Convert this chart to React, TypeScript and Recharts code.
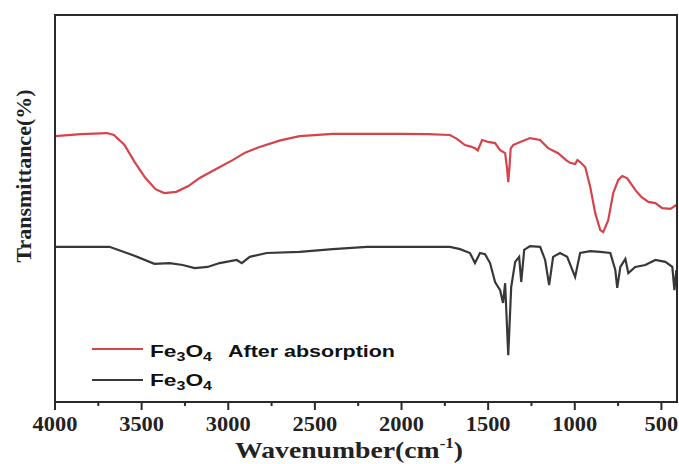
import { LineChart, Line, XAxis, YAxis } from 'recharts';

// FTIR spectra, wavenumber (cm-1) vs transmittance (arbitrary %)
const afterWavenumber = [4000, 3850, 3700, 3660, 3600, 3540, 3480, 3420, 3370, 3300, 3230, 3165, 3070, 2975, 2900, 2819, 2700, 2588, 2397, 2200, 2009, 1850, 1720, 1680, 1634, 1600, 1576, 1560, 1535, 1500, 1460, 1431, 1402, 1390, 1384, 1378, 1370, 1356, 1315, 1258, 1200, 1154, 1096, 1050, 1027, 998, 985, 969, 940, 911, 882, 853, 836, 807, 778, 749, 726, 697, 651, 616, 575, 535, 495, 448, 414];
const afterTransmittance = [68.7, 69.2, 69.5, 69.0, 66.5, 62.0, 58.0, 55.0, 54.0, 54.3, 55.8, 57.9, 60.2, 62.5, 64.5, 65.9, 67.6, 68.7, 69.3, 69.3, 69.3, 69.2, 69.0, 68.0, 66.4, 66.0, 65.6, 65.0, 67.7, 67.2, 66.9, 65.1, 64.3, 60.0, 56.8, 60.0, 65.5, 66.4, 67.2, 68.2, 67.7, 65.6, 64.3, 62.5, 61.8, 61.5, 62.5, 62.0, 60.7, 55.6, 48.8, 44.4, 43.9, 47.0, 54.0, 57.4, 58.4, 57.8, 54.8, 53.0, 51.7, 51.4, 50.1, 49.9, 50.9];

const pureWavenumber = [4000, 3686, 3553, 3426, 3338, 3263, 3194, 3119, 3050, 2951, 2922, 2876, 2778, 2588, 2397, 2200, 2009, 1720, 1662, 1605, 1576, 1547, 1518, 1489, 1460, 1431, 1414, 1402, 1384, 1367, 1344, 1321, 1309, 1292, 1258, 1200, 1171, 1148, 1125, 1085, 1044, 998, 969, 911, 853, 795, 766, 755, 737, 708, 691, 651, 593, 535, 477, 437, 425, 414];
const pureTransmittance = [40.1, 40.1, 38.0, 35.7, 35.9, 35.4, 34.6, 34.9, 35.9, 36.7, 35.9, 37.5, 38.5, 38.8, 39.5, 40.1, 40.1, 40.1, 39.5, 38.5, 35.9, 38.5, 38.2, 35.9, 31.0, 28.9, 25.6, 30.7, 12.1, 29.7, 36.2, 37.5, 31.0, 39.3, 40.3, 40.1, 36.7, 30.2, 37.5, 38.5, 37.5, 32.3, 38.5, 39.0, 38.8, 38.5, 34.1, 29.5, 34.9, 37.0, 33.3, 34.9, 35.4, 36.7, 36.2, 34.9, 28.9, 34.1];

const xTicks = [4000, 3750, 3500, 3250, 3000, 2750, 2500, 2250, 2000, 1750, 1500, 1250, 1000, 750, 500];
const X_DOMAIN = [410, 4000];
const Y_DOMAIN = [0, 100];

// layout
const W = 679;
const H = 464;
const MARGIN = { top: 15, right: 2, left: 0, bottom: 0 };
const Y_AXIS_W = 55;
const X_AXIS_H = 62;

const RED = '#d6434b';
const BLACK = '#383838';
const AXIS = '#2a2a2a';
const SANS = 'Liberation Sans, Arial, sans-serif';

const afterData = afterWavenumber.map((w, i) => ({ w, t: afterTransmittance[i] }));
const pureData = pureWavenumber.map((w, i) => ({ w, t: pureTransmittance[i] }));

function XTick(props: any) {
  const { x, y, payload } = props;
  const major = payload.value % 500 === 0;
  const label = String(payload.value);
  return (
    <g>
      <line x1={x} x2={x} y1={y} y2={y + (major ? 8 : 4)} stroke={AXIS} strokeWidth={2} />
      {major && (
        <text
          x={x}
          y={y + 29}
          textAnchor="middle"
          fontFamily="Liberation Serif"
          fontWeight="bold"
          fontSize={20}
          fill="#222"
          textLength={label.length * 11.2}
          lengthAdjust="spacingAndGlyphs"
        >
          {label}
        </text>
      )}
    </g>
  );
}

const XTitle = ({ viewBox }: any) => (
  <text
    x={viewBox.x + viewBox.width / 2 - 17}
    y={458}
    textAnchor="middle"
    fontFamily="Liberation Serif"
    fontWeight="bold"
    fontSize={23}
    fill="#222"
    textLength={228}
    lengthAdjust="spacingAndGlyphs"
  >
    Wavenumber(cm
    <tspan fontSize={14} dy={-10}>-1</tspan>
    <tspan dy={10}>)</tspan>
  </text>
);

const YTitle = () => (
  <text
    x={31}
    y={176}
    transform="rotate(-90, 31, 176)"
    textAnchor="middle"
    fontFamily="Liberation Serif"
    fontWeight="bold"
    fontSize={22}
    fill="#222"
  >
    Transmittance(%)
  </text>
);

const Formula = () => (
  <>
    Fe<tspan fontSize={12} dy={4}>3</tspan>
    <tspan dy={-4}>O</tspan>
    <tspan fontSize={12} dy={4}>4</tspan>
  </>
);

// frame box and legend drawn on top of the chart
const Overlay = () => {
  const fx = MARGIN.left + Y_AXIS_W;
  const fy = MARGIN.top;
  const fw = W - fx - MARGIN.right;
  const fh = H - fy - MARGIN.bottom - X_AXIS_H;
  return (
    <svg width={W} height={H} style={{ position: 'absolute', left: 0, top: 0, pointerEvents: 'none' }}>
      <rect x={fx} y={fy} width={fw} height={fh} fill="none" stroke={AXIS} strokeWidth={2} />
      <line x1={92} x2={143} y1={349} y2={349} stroke={RED} strokeWidth={2} />
      <text x={150} y={357} fontFamily={SANS} fontWeight="bold" fontSize={17} fill="#111" textLength={62} lengthAdjust="spacingAndGlyphs">
        <Formula />
      </text>
      <text
        x={228}
        y={357}
        textLength={167}
        lengthAdjust="spacingAndGlyphs"
        fontFamily={SANS}
        fontWeight="bold"
        fontSize={16}
        fill="#111"
      >
        After absorption
      </text>
      <line x1={92} x2={143} y1={380} y2={380} stroke={BLACK} strokeWidth={2} />
      <text x={150} y={386} fontFamily={SANS} fontWeight="bold" fontSize={17} fill="#111" textLength={62} lengthAdjust="spacingAndGlyphs">
        <Formula />
      </text>
    </svg>
  );
};

export default function App() {
  return (
    <div style={{ position: 'relative', width: W, height: H, background: '#fff' }}>
      <style>{`body{margin:0}`}</style>
      <LineChart width={W} height={H} margin={MARGIN}>
        <XAxis
          dataKey="w"
          type="number"
          domain={X_DOMAIN}
          reversed
          allowDataOverflow
          ticks={xTicks}
          interval={0}
          tickSize={0}
          tickMargin={0}
          tickLine={false}
          tick={<XTick />}
          height={X_AXIS_H}
          axisLine={{ stroke: AXIS, strokeWidth: 2 }}
          label={<XTitle />}
        />
        <YAxis
          type="number"
          domain={Y_DOMAIN}
          allowDataOverflow
          width={Y_AXIS_W}
          tick={false}
          tickLine={false}
          axisLine={{ stroke: AXIS, strokeWidth: 2 }}
          label={<YTitle />}
        />
        <Line
          data={afterData}
          dataKey="t"
          name="Fe3O4 After absorption"
          type="linear"
          stroke={RED}
          strokeWidth={2.2}
          dot={false}
          isAnimationActive={false}
        />
        <Line
          data={pureData}
          dataKey="t"
          name="Fe3O4"
          type="linear"
          stroke={BLACK}
          strokeWidth={2.2}
          dot={false}
          isAnimationActive={false}
        />
      </LineChart>
      <Overlay />
    </div>
  );
}
